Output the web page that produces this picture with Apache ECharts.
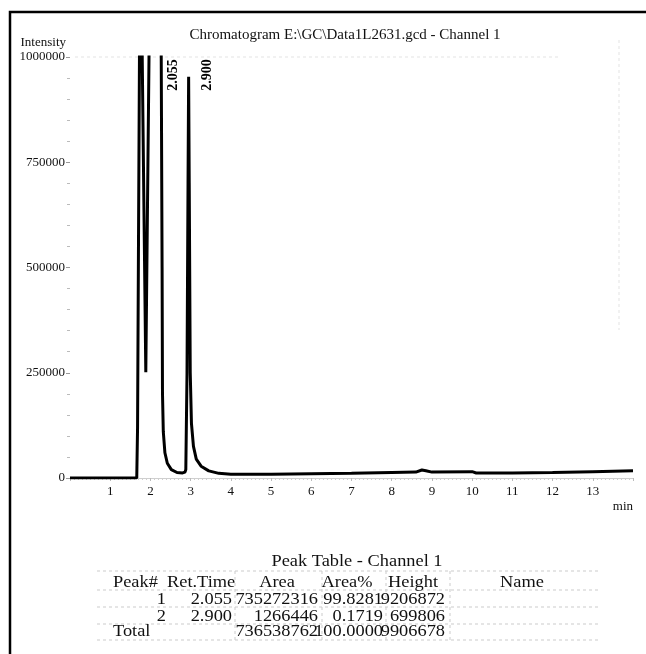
<!DOCTYPE html>
<html><head><meta charset="utf-8">
<script src="https://cdn.jsdelivr.net/npm/echarts@6/dist/echarts.min.js"></script>
<style>html,body{margin:0;padding:0;background:#fff}#c{width:646px;height:654px}</style>
</head><body><div id="c"></div>
<script>
// ---------- data ----------
const chartTitle = 'Chromatogram E:\\GC\\Data1L2631.gcd - Channel 1';
const yAxisName = 'Intensity';
const xAxisName = 'min';
const traceTime = [0, 1.66, 1.68, 1.70, 1.73, 1.79, 1.885, 1.97, 2.20, 2.26, 2.29, 2.30, 2.32, 2.36, 2.42, 2.52, 2.66, 2.80, 2.86,
  2.88, 2.91, 2.935, 2.95, 2.965, 2.99, 3.02, 3.07, 3.14, 3.26, 3.45, 3.7, 4.0, 5.0, 6.0, 7.0, 8.0, 8.6, 8.75, 8.85, 9.0, 10.0, 10.1, 11.0, 12.0, 13.0, 14.0];
const traceIntensity = [0, 0, 120000, 500000, 1050000, 1050000, 251000, 1050000, 1200000, 1200000, 500000, 200000, 110000, 60000, 35000, 20000, 13000, 12000, 14000,
  20000, 250000, 700000, 953000, 700000, 250000, 130000, 75000, 45000, 28000, 17000, 11000, 9000, 9000, 10000, 11000, 13000, 14000, 19000, 17000, 14000, 15000, 12000, 12000, 13000, 15000, 17000];
const peakRetTimes = [2.055, 2.900];

const tableTitle = 'Peak Table - Channel 1';
const tableHeaders = ['Peak#', 'Ret.Time', 'Area', 'Area%', 'Height', 'Name'];
const peakNumbers = ['1', '2'];
const retTimes = ['2.055', '2.900'];
const areas = ['735272316', '1266446'];
const areaPercents = ['99.8281', '0.1719'];
const heights = ['9206872', '699806'];
const totalLabel = 'Total';
const totalArea = '736538762';
const totalAreaPercent = '100.0000';
const totalHeight = '9906678';

// ---------- chart ----------
const SERIF = '"Liberation Serif", "DejaVu Serif", serif';
const yMax = 1000000;
const chart = echarts.init(document.getElementById('c'), null, {renderer: 'canvas'});

const traceData = traceTime.map((t, i) => [t, traceIntensity[i]]);

// table graphics
const g = [];
const font = (s, w) => (w || 'normal') + ' ' + s + 'px ' + SERIF;
function txt(x, y, text, align, size, sx) {
  g.push({type: 'text', x: x, y: y, scaleX: sx || 1.08, silent: true,
    style: {text: text, fill: '#111', font: font(size || 17), align: align, verticalAlign: 'middle'}});
}
function hline(x1, x2, y, c) {
  g.push({type: 'line', silent: true, shape: {x1: x1, y1: y, x2: x2, y2: y},
    style: {stroke: c || '#cccccc', lineWidth: 1, lineDash: [3, 3]}});
}
function vline(x, y1, y2, c) {
  g.push({type: 'line', silent: true, shape: {x1: x, y1: y1, x2: x, y2: y2},
    style: {stroke: c || '#cccccc', lineWidth: 1, lineDash: [3, 3]}});
}
// outer frame
g.push({type: 'rect', silent: true, shape: {x: 10, y: 12, width: 700, height: 700},
  style: {fill: 'none', stroke: '#000', lineWidth: 2.5}});
// faint plot frame
hline(75, 560, 57, '#e4e4e4');
vline(619, 40, 330, '#e4e4e4');

const rowY = [600, 617];
txt(357, 562, tableTitle, 'center');
[571, 590, 607, 624, 640].forEach(y => hline(97, 600, y));
[235, 322, 386, 450].forEach(x => vline(x, 571, 640));
txt(113, 583, tableHeaders[0], 'left');
txt(167, 583, tableHeaders[1], 'left');
txt(277, 583, tableHeaders[2], 'center');
txt(347, 583, tableHeaders[3], 'center');
txt(413, 583, tableHeaders[4], 'center');
txt(522, 583, tableHeaders[5], 'center');
peakNumbers.forEach((p, i) => {
  txt(166, rowY[i], p, 'right');
  txt(232, rowY[i], retTimes[i], 'right');
  txt(318, rowY[i], areas[i], 'right');
  txt(383, rowY[i], areaPercents[i], 'right');
  txt(445, rowY[i], heights[i], 'right');
});
txt(113, 632, totalLabel, 'left');
txt(318, 632, totalArea, 'right');
txt(383, 632, totalAreaPercent, 'right');
txt(445, 632, totalHeight, 'right');

const option = {
  animation: false,
  backgroundColor: '#fff',
  title: {
    text: chartTitle, left: 340, top: 23, textAlign: 'center',
    textStyle: {fontFamily: SERIF, fontSize: 15, fontWeight: 'normal', color: '#111'}
  },
  grid: {left: 70, right: 13, top: 57, bottom: 176, containLabel: false},
  xAxis: {
    type: 'value', min: 0, max: 14, interval: 1,
    name: xAxisName, nameLocation: 'end', nameGap: 0,
    nameTextStyle: {fontFamily: SERIF, fontSize: 13, color: '#111', align: 'right', verticalAlign: 'top', padding: [22, 0, 0, 0]},
    axisLine: {show: true, lineStyle: {color: '#cfcfcf', width: 1}},
    axisTick: {show: true, length: 3, lineStyle: {color: '#bbb'}},
    minorTick: {show: true, splitNumber: 10, length: 2, lineStyle: {color: '#cfcfcf'}},
    splitLine: {show: false},
    axisLabel: {
      fontFamily: SERIF, fontSize: 13, color: '#111', margin: 7,
      formatter: v => (v >= 1 && v <= 13) ? String(v) : ''
    }
  },
  yAxis: {
    type: 'value', min: 0, max: yMax, interval: 250000,
    name: yAxisName, nameLocation: 'end', nameGap: 8,
    nameTextStyle: {fontFamily: SERIF, fontSize: 13, color: '#111', align: 'right', padding: [0, 4, 0, 0]},
    axisLine: {show: false},
    axisTick: {show: true, length: 4, lineStyle: {color: '#999'}},
    minorTick: {show: true, splitNumber: 5, length: 3, lineStyle: {color: '#bbb'}},
    splitLine: {show: false},
    axisLabel: {fontFamily: SERIF, fontSize: 13, color: '#111', margin: 5, formatter: v => String(v)}
  },
  series: [{
    type: 'line',
    data: traceData,
    showSymbol: false,
    symbol: 'none',
    clip: true,
    lineStyle: {color: '#000', width: 3},
    markPoint: {
      symbol: 'circle', symbolSize: 1, silent: true,
      itemStyle: {color: 'rgba(0,0,0,0)'},
      label: {
        show: true, position: 'inside', rotate: 90, offset: [-18, 21],
        fontFamily: SERIF, fontSize: 14, fontWeight: 'bold', color: '#000',
        formatter: p => p.data.name
      },
      data: peakRetTimes.map(t => ({coord: [t, yMax], name: t.toFixed(3)}))
    }
  }],
  graphic: g
};
chart.setOption(option);
</script>
</body></html>
